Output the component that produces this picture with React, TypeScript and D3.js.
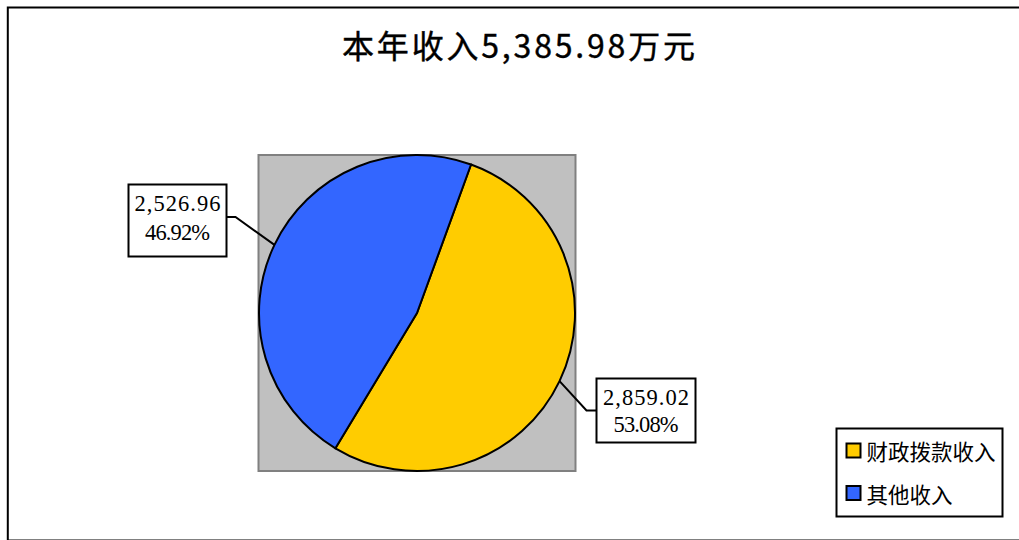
import React from "react";
import * as d3 from "d3";

const categories = ["财政拨款收入", "其他收入"];
const values = [2859.02, 2526.96];
const percents = ["53.08%", "46.92%"];
const valueLabels = ["2,859.02", "2,526.96"];
const colors = ["#FFCC00", "#3366FF"];
const title = "本年收入5,385.98万元";

const W = 1019;
const H = 540;

export default function App() {
  const plot = { x: 258.5, y: 155, w: 317, h: 316 };
  const cx = plot.x + plot.w / 2;
  const cy = plot.y + plot.h / 2;
  const r = 158;
  const start = (20 * Math.PI) / 180;
  const pie = d3
    .pie<number>()
    .sort(null)
    .startAngle(start)
    .endAngle(start + 2 * Math.PI)
    .value((d) => d);
  const arcs = pie(values);
  const arcGen = d3.arc<d3.PieArcDatum<number>>().innerRadius(0).outerRadius(r);

  // label boxes (layout)
  const boxes = [
    { x: 596.5, y: 378.5, w: 99, h: 64, side: "right" as const, kneeDx: -10, l1: 405, l2: 432 },
    { x: 128.5, y: 184.5, w: 98, h: 72, side: "left" as const, kneeDx: 9, l1: 211, l2: 240 },
  ];

  const font = "'Liberation Serif', 'DejaVu Serif', serif";
  const cjk = "'Noto Sans CJK SC', 'Noto Sans', sans-serif";

  return (
    <svg
      width={W}
      height={H}
      style={{ position: "absolute", left: 0, top: 0, background: "#fff" }}
    >
      <rect x={7.8} y={7.5} width={1040} height={533} fill="#fff" stroke="#000" strokeWidth={2} />
      <text
        x={518.5}
        y={44}
        textAnchor="middle"
        dominantBaseline="central"
        fontFamily={cjk}
        fontSize={32}
        textLength={353}
        lengthAdjust="spacing"
        fill="#000"
        stroke="#000"
        strokeWidth={0.4}
      >
        {title}
      </text>

      <rect
        x={plot.x}
        y={plot.y}
        width={plot.w}
        height={plot.h}
        fill="#C0C0C0"
        stroke="#808080"
        strokeWidth={2}
      />
      <g transform={`translate(${cx},${cy})`}>
        {arcs.map((a, i) => (
          <path key={i} d={arcGen(a) || ""} fill={colors[i]} stroke="#000" strokeWidth={2} strokeLinejoin="round" />
        ))}
      </g>

      {arcs.map((a, i) => {
        const mid = (a.startAngle + a.endAngle) / 2;
        const px = cx + r * Math.sin(mid);
        const py = cy - r * Math.cos(mid);
        const b = boxes[i];
        const edgeX = b.side === "right" ? b.x : b.x + b.w;
        const midY = b.side === "right" ? b.y + 32 : b.y + 32.5;
        const kneeX = edgeX + b.kneeDx;
        const tcx = b.x + b.w / 2;
        return (
          <g key={"lbl" + i}>
            <polyline
              points={`${px},${py} ${kneeX},${midY} ${edgeX},${midY}`}
              fill="none"
              stroke="#000"
              strokeWidth={2}
            />
            <rect x={b.x} y={b.y} width={b.w} height={b.h} fill="#fff" stroke="#000" strokeWidth={2} />
            <text
              x={tcx}
              y={b.l1}
              textAnchor="middle"
              fontFamily={font}
              fontSize={22.5}
              textLength={86}
              lengthAdjust="spacing"
              fill="#000"
            >
              {valueLabels[i]}
            </text>
            <text
              x={tcx}
              y={b.l2}
              textAnchor="middle"
              fontFamily={font}
              fontSize={22.5}
              textLength={65}
              lengthAdjust="spacing"
              fill="#000"
            >
              {percents[i]}
            </text>
          </g>
        );
      })}

      <g>
        <rect x={836.5} y={428.5} width={166} height={88} fill="#fff" stroke="#000" strokeWidth={2} />
        {categories.map((c, i) => {
          const yc = 450.5 + i * 42.5;
          return (
            <g key={c}>
              <rect x={846.5} y={yc - 7} width={14} height={14} fill={colors[i]} stroke="#000" strokeWidth={2} />
              <text
                x={866.5}
                y={yc}
                dominantBaseline="central"
                fontFamily={cjk}
                fontSize={21.5}
                fill="#000"
              >
                {c}
              </text>
            </g>
          );
        })}
      </g>
    </svg>
  );
}
